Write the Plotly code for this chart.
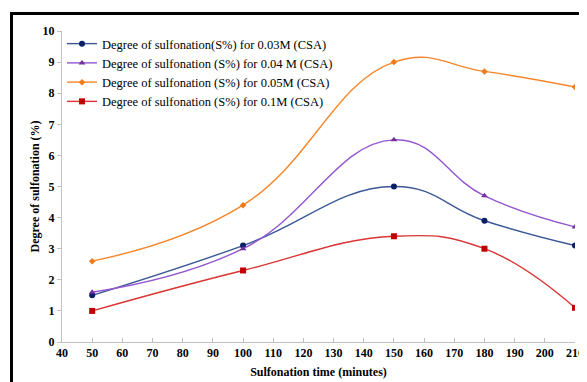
import plotly.graph_objects as go

time_min = [50, 100, 150, 180, 210]
s_003 = [1.5, 3.1, 5.0, 3.9, 3.1]
s_004 = [1.6, 3.0, 6.5, 4.7, 3.7]
s_005 = [2.6, 4.4, 9.0, 8.7, 8.2]
s_01 = [1.0, 2.3, 3.4, 3.0, 1.1]

names = [
    "Degree of sulfonation(S%) for 0.03M (CSA)",
    "Degree of sulfonation (S%) for 0.04 M (CSA)",
    "Degree of sulfonation (S%) for 0.05M (CSA)",
    "Degree of sulfonation (S%) for 0.1M (CSA)",
]
series = [s_003, s_004, s_005, s_01]
colors = ["#3B5796", "#9457D0", "#F5862A", "#DA3434"]
mcolors = ["#0B1F66", "#7030A0", "#F07A1A", "#C00000"]
symbols = ["circle", "triangle-up", "diamond", "square"]
msizes = [6, 6, 5, 6]

fig = go.Figure()
for n, s, c, mc, sym, ms in zip(names, series, colors, mcolors, symbols, msizes):
    fig.add_trace(go.Scatter(
        x=time_min, y=s, name=n, mode="lines+markers",
        line=dict(color=c, width=1.4, shape="spline", smoothing=1.25),
        marker=dict(color=mc, symbol=sym, size=ms),
    ))

# page has an 8px body margin; figure is sized to fill the rest
OFF = 8
W, H = 587 - OFF, 382 - OFF
L, R, T, B = 62 - OFF, 12, 31 - OFF, 40
pw, ph = W - L - R, H - T - B

def px_x(p):
    return (p - OFF - L) / pw

def px_y(p):
    return (H - B - (p - OFF)) / ph

fig.update_layout(
    width=W, height=H,
    margin=dict(l=L, r=R, t=T, b=B),
    paper_bgcolor="white", plot_bgcolor="white",
    font=dict(family="Liberation Serif, Times New Roman, serif", color="black", size=12),
    showlegend=True,
    legend=dict(
        x=px_x(62), y=px_y(29), xanchor="left", yanchor="top",
        bgcolor="rgba(0,0,0,0)", font=dict(size=12.5, family="Liberation Serif"),
        tracegroupgap=0, itemwidth=30,
    ),
    xaxis=dict(
        range=[40, 210], tickmode="array", tickvals=list(range(40, 211, 10)),
        showgrid=False, zeroline=False, showline=True, linecolor="#BFBFBF", linewidth=1,
        ticks="inside", ticklen=4, tickcolor="#BFBFBF", automargin=False,
        tickfont=dict(family="Liberation Serif", size=12, weight="bold"),
        title=dict(text="<b>Sulfonation time (minutes)</b>", font=dict(size=12), standoff=8),
    ),
    yaxis=dict(
        range=[0, 10], tickmode="array", tickvals=list(range(0, 11)),
        showgrid=False, zeroline=False, showline=True, linecolor="#BFBFBF", linewidth=1,
        ticks="outside", ticklen=4, tickcolor="#BFBFBF", automargin=False,
        tickfont=dict(family="Liberation Serif", size=12, weight="bold"),
        title=dict(text="<b>Degree of sulfonation (%)</b>", font=dict(size=12), standoff=0),
    ),
    shapes=[
        dict(type="line", xref="paper", yref="paper",
             x0=px_x(11.5), x1=px_x(11.5), y0=px_y(12), y1=px_y(382 + 5),
             line=dict(color="black", width=3)),
        dict(type="line", xref="paper", yref="paper",
             x0=px_x(10), x1=px_x(587 + 5), y0=px_y(13.5), y1=px_y(13.5),
             line=dict(color="black", width=3)),
    ],
)

fig.write_html("out.html")
